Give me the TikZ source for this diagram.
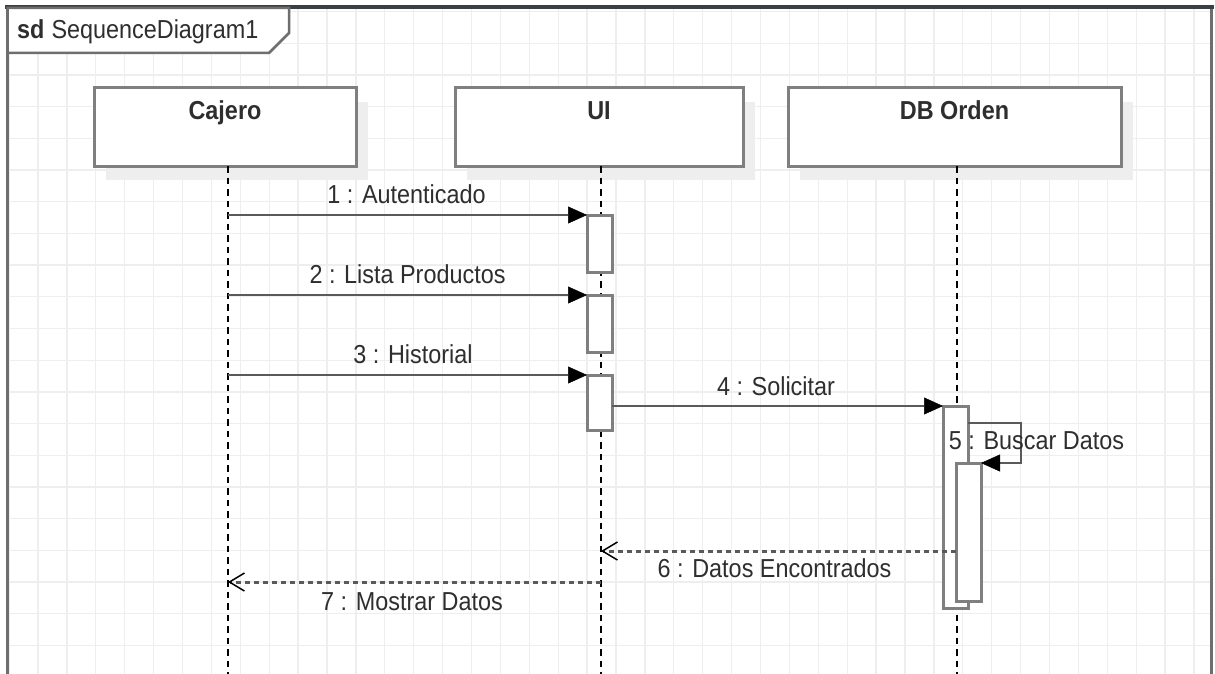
\documentclass[tikz,border=0pt]{standalone}
\usepackage{fontspec}
\setmainfont[FakeStretch=0.9]{Liberation Sans}
\usetikzlibrary{arrows.meta,calc}
\definecolor{gridc}{HTML}{EEEEEE}
\definecolor{boxc}{HTML}{7F7F7F}
\definecolor{shadc}{HTML}{EEEEEE}
\definecolor{txtc}{HTML}{2E2E2E}
\definecolor{linec}{HTML}{5A5A5A}
\definecolor{framec}{HTML}{6E6E6E}
\definecolor{topc}{HTML}{3B4043}
\begin{document}
\begin{tikzpicture}[x=1pt,y=-1pt,
  lbl/.style={font=\fontsize{26}{30}\selectfont, text=txtc, inner sep=0pt},
  namelbl/.style={font=\fontsize{26}{30}\selectfont\bfseries, text=txtc, inner sep=0pt},
  lifebox/.style={draw=boxc, line width=3pt, fill=white, minimum width=262pt, minimum height=78pt, inner sep=0pt, outer sep=0pt},
  act/.style={draw=boxc, line width=3pt, fill=white, minimum width=25pt, inner sep=0pt, outer sep=0pt},
  lifeline/.style={draw=black, line width=1.5pt, dash pattern=on 6.5pt off 5pt},
  sync/.style={draw=linec, line width=2.5pt, -{Triangle[length=19pt,width=17pt,line width=0.5pt,color=black]}},
  ret/.style={draw=linec, line width=3pt, dash pattern=on 5pt off 4pt, -{Straight Barb[length=15pt,width=18pt,line width=1.5pt,color=black]}},
  shad/.style={fill=shadc}
]
\useasboundingbox (0,0) rectangle (1215,674);
\fill[white] (0,0) rectangle (1215,674);
% grid
\begin{scope}
  \clip (7,7) rectangle (1212,674);
  \foreach \k in {0,...,41} { \draw[gridc, line width=1.3pt] (9.1+28.9*\k,0) -- (9.1+28.9*\k,674); }
  \foreach \k in {0,...,21} { \draw[gridc, line width=1.3pt] (0,11.5+31.7*\k) -- (1215,11.5+31.7*\k); }
\end{scope}
% frame
\draw[framec, line width=3pt] (7.5,680) -- (7.5,7) -- (1211.5,7) -- (1211.5,680);
\draw[topc, line width=4pt] (5,7) -- (1214,7);
\draw[framec, line width=2.5pt, fill=white] (7.5,8) -- (289,8) -- (289,33) -- (269,53) -- (7.5,53) -- cycle;
\node[lbl, anchor=base west] (title) at (17,39) {\textbf{sd}\hspace{7pt}SequenceDiagram1};
% shadows
\fill[shad] (106,102) rectangle (368,180);
\fill[shad] (467,102) rectangle (755,180);
\fill[shad] (800,102) rectangle (1133,180);
% lifeline boxes
\node[lifebox] (cajero) at (225,127) {};
\node[lifebox, minimum width=288pt] (ui) at (599,127) {};
\node[lifebox, minimum width=333pt] (db) at (954.5,127) {};
\node[namelbl, anchor=base] (cajeroname) at (225,120) {Cajero};
\node[namelbl, anchor=base] (uiname) at (599,120) {UI};
\node[namelbl, anchor=base] (dbname) at (954.5,120) {DB Orden};
% lifelines
\coordinate (cl) at (228,166);
\coordinate (ul) at (601,166);
\coordinate (dl) at (957,166);
\coordinate (clend) at (228,674);
\coordinate (ulend) at (601,674);
\coordinate (dlend) at (957,674);
\draw[lifeline] (cl) -- (clend);
\draw[lifeline] (ul) -- (ulend);
\draw[lifeline] (dl) -- (dlend);
% activations
\node[act, minimum height=57pt] (a1) at (599.5,243.5) {};
\node[act, minimum height=57pt] (a2) at (599.5,323.5) {};
\node[act, minimum height=55pt] (a3) at (599.5,402.5) {};
\node[act, minimum height=202pt] (a4) at (955.5,507) {};
\node[act, minimum height=138pt] (a5) at (968.5,532) {};
% messages
\draw[sync] (a1.north west -| cl) -- (a1.north west);
\draw[sync] (a2.north west -| cl) -- (a2.north west);
\draw[sync] (a3.north west -| cl) -- (a3.north west);
\draw[sync] (a3.east |- a4.north) -- (a4.north west);
\draw[sync] ($(a4.north east)+(0,17)$) -| ($(a5.north east)+(40,0)$) -- (a5.north east);
\coordinate (r6) at ($(a5.north west)+(0,88)$);
\draw[ret] (r6) -- (r6 -| ul);
\coordinate (r7) at ($(r6 -| ul)+(0,31)$);
\draw[ret] (r7) -- (r7 -| cl);
% labels
\node[lbl, anchor=base] (m1) at (406.5,203) {1 : Autenticado};
\node[lbl, anchor=base] (m2) at (407.5,283) {2 : Lista Productos};
\node[lbl, anchor=base] (m3) at (413,363) {3 : Historial};
\node[lbl, anchor=base] (m4) at (776,395) {4 : Solicitar};
\node[lbl, anchor=base] (m5) at (1036.5,449) {5 : Buscar Datos};
\node[lbl, anchor=base] (m6) at (774.5,577) {6 : Datos Encontrados};
\node[lbl, anchor=base] (m7) at (412,610) {7 : Mostrar Datos};
\end{tikzpicture}
\end{document}
